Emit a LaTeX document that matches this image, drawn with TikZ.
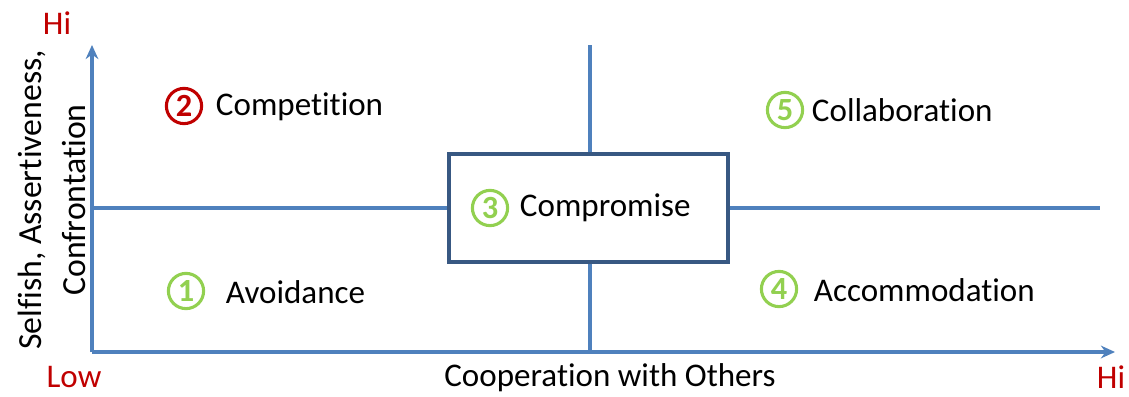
\documentclass[tikz,border=0pt]{standalone}
\usepackage{fontspec}
\setmainfont{Carlito}[Ligatures={NoCommon,NoDiscretionary,NoRare}]
\usetikzlibrary{arrows.meta}
\definecolor{axisblue}{RGB}{79,129,189}
\definecolor{boxblue}{RGB}{56,88,130}
\definecolor{darkred}{RGB}{192,0,0}
\definecolor{lightgreen}{RGB}{146,208,80}
\tikzset{
  axis/.style={draw=axisblue, line width=2.4pt},
  num/.style={circle, draw=#1, text=#1, line width=2.2pt, inner sep=0pt,
    minimum size=0.88cm, font=\fontsize{23}{23}\selectfont\bfseries},
  lbl/.style={anchor=west, font=\fontsize{23.5}{25}\selectfont},
  ends/.style={text=darkred, inner sep=0pt, font=\fontsize{23.5}{25}\selectfont}
}
\begin{document}
\begin{tikzpicture}[x=0.025cm, y=-0.025cm]
    \useasboundingbox (0,0) rectangle (1129,396);
    \coordinate (O) at (92,352);   \coordinate (YT) at (92,45);  \coordinate (XT) at (1115,352);
    \coordinate (ML) at (92,208);  \coordinate (MR) at (1100,208);
    \coordinate (VT) at (590,45);  \coordinate (VB) at (590,352);
    % quadrant lines
    \draw[axis] (ML) -- (MR);
    \draw[axis] (VT) -- (VB);
    % axes
    \draw[axis, -{Stealth[length=10pt,width=9pt]}] (O) -- (YT);
    \draw[axis, -{Stealth[length=10pt,width=9pt]}] (O) -- (XT);
    % compromise box
    \node[draw=boxblue, fill=white, line width=3.4pt, minimum width=279*0.025cm,
      minimum height=108*0.025cm] (box) at (588.5,208) {};
    % quadrant labels
    \node[num=darkred]    (n2) at (184,106) {2};
    \node[lbl] (comp) at (211,107) {Competition};
    \node[num=lightgreen] (n1) at (186,291) {1};
    \node[lbl] (avoid) at (221,292) {Avoidance};
    \node[num=lightgreen] (n3) at (490,208) {3};
    \node[lbl] (compro) at (515,208) {Compromise};
    \node[num=lightgreen] (n5) at (785,110) {5};
    \node[lbl] (collab) at (807,110) {Collaboration};
    \node[num=lightgreen] (n4) at (779,289) {4};
    \node[lbl] (accom) at (809,290) {Accommodation};
    % axis labels
    \node[ends] (hiy) at (57,23) {Hi};
    \node[ends] (low) at (74,377) {Low};
    \node[ends] (hix) at (1111,377) {Hi};
    \node[inner sep=0pt, font=\fontsize{23.5}{25}\selectfont] (xlab) at (610,378) {Cooperation with Others};
    \node[rotate=90, align=center, font=\fontsize{24}{31}\selectfont] (ylab) at (52,200)
      {Selfish, Assertiveness,\\Confrontation};
\end{tikzpicture}
\end{document}
